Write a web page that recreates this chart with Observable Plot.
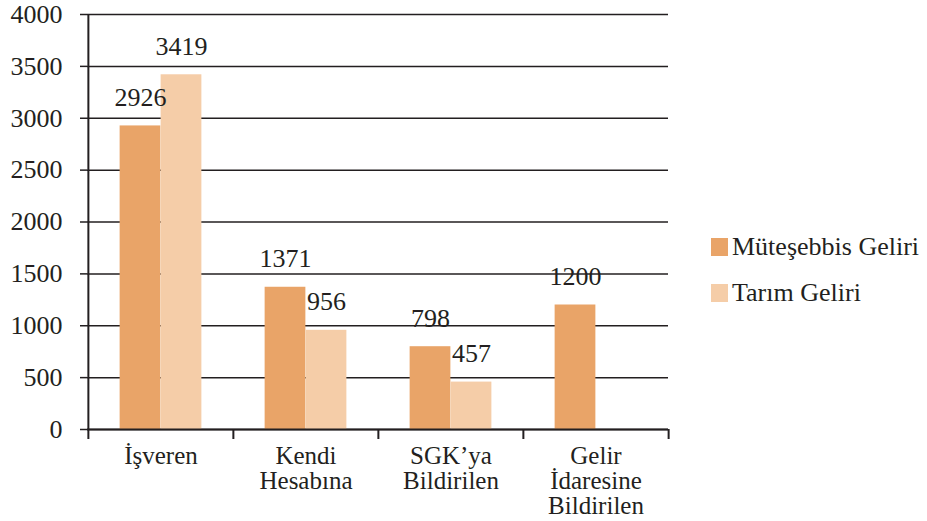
<!DOCTYPE html>
<html>
<head>
<meta charset="utf-8">
<script src="https://cdn.jsdelivr.net/npm/d3@7"></script>
<script src="https://cdn.jsdelivr.net/npm/@observablehq/plot@0.6"></script>
<style>
  html, body { margin: 0; padding: 0; background: #fff; }
  #wrap { position: relative; width: 927px; height: 521px; font-family: "Liberation Serif", serif; }
  #chart svg, #chart svg text { font-family: "Liberation Serif", serif !important; }
  #legend { position: absolute; left: 711px; top: 235px; font-size: 26px; color: #231f20; }
  .item { display: flex; align-items: center; height: 24px; margin-bottom: 22px; }
  .sw { width: 17px; height: 18px; margin-right: 4px; }
</style>
</head>
<body>
<div id="wrap"><div id="chart"></div><div id="legend"></div></div>
<script>
// ---- data ----
const categories = ["İşveren", "Kendi Hesabına", "SGK’ya Bildirilen", "Gelir İdaresine Bildirilen"];
const categoryLabels = ["İşveren", "Kendi\nHesabına", "SGK’ya\nBildirilen", "Gelir\nİdaresine\nBildirilen"];
const seriesNames = ["Müteşebbis Geliri", "Tarım Geliri"];
const mutesebbis = [2926, 1371, 798, 1200];
const tarim = [3419, 956, 457, null];
const yTicks = [0, 500, 1000, 1500, 2000, 2500, 3000, 3500, 4000];
const colors = ["#E9A468", "#F5CDA8"];

// ---- layout ----
const W = 927, H = 521, ML = 87, MR = 259, MT = 14, MB = 92;
const bw = (W - ML - MR) / categories.length;
const barW = 41;
const outer = (bw - 2 * barW) / 2;
const plotH = H - MT - MB;
const ink = "#231f20";
const font = "'Liberation Serif', serif";
const fs = 26;

const rows0 = categories.map((c, i) => ({category: c, value: mutesebbis[i]})).filter(d => d.value != null);
const rows1 = categories.map((c, i) => ({category: c, value: tarim[i]})).filter(d => d.value != null);
const labelRows = categories.map((c, i) => ({category: c, label: categoryLabels[i]}));

const chart = Plot.plot({
  width: W, height: H,
  marginLeft: ML, marginRight: MR, marginTop: MT, marginBottom: MB,
  style: {fontFamily: font, color: ink, background: "white"},
  x: {domain: categories, padding: 0, axis: null},
  y: {domain: [0, 4000], axis: null},
  marks: [
    Plot.gridY(yTicks, {stroke: ink, strokeOpacity: 1, strokeWidth: 1.5}),
    Plot.barY(rows0, {x: "category", y: "value", fill: colors[0], insetLeft: outer, insetRight: bw - outer - barW}),
    Plot.barY(rows1, {x: "category", y: "value", fill: colors[1], insetLeft: outer + barW, insetRight: outer}),
    Plot.axisY(yTicks, {tickSize: 7, tickPadding: 18, fontSize: fs, fontFamily: font, stroke: ink, strokeWidth: 1.5, fill: ink, label: null, tickFormat: d => String(d)}),
    Plot.ruleY([0], {stroke: ink, strokeWidth: 2}),
    Plot.ruleX([categories[0]], {x: d => d, dx: -bw / 2, insetBottom: -10, stroke: ink, strokeWidth: 2}),
    Plot.ruleX(categories.slice(1), {x: d => d, dx: -bw / 2, insetTop: plotH, insetBottom: -10, stroke: ink, strokeWidth: 2}),
    Plot.ruleX([categories[categories.length - 1]], {x: d => d, dx: bw / 2, insetTop: plotH, insetBottom: -10, stroke: ink, strokeWidth: 2}),
    Plot.text(rows0, {x: "category", y: "value", text: d => String(d.value), dx: -barW / 2, dy: -20, lineAnchor: "bottom", fontSize: fs, fontFamily: font, fill: ink}),
    Plot.text(rows1, {x: "category", y: "value", text: d => String(d.value), dx: barW / 2, dy: -20, lineAnchor: "bottom", fontSize: fs, fontFamily: font, fill: ink}),
    Plot.text(labelRows, {x: "category", text: "label", frameAnchor: "bottom", lineAnchor: "top", dy: 17, lineHeight: 1.0, fontSize: 25, fontFamily: font, fill: ink})
  ]
});
document.getElementById("chart").appendChild(chart);

const legend = document.getElementById("legend");
seriesNames.forEach((name, i) => {
  const item = document.createElement("div");
  item.className = "item";
  const sw = document.createElement("div");
  sw.className = "sw";
  sw.style.background = colors[i];
  const t = document.createElement("span");
  t.textContent = name;
  item.appendChild(sw); item.appendChild(t);
  legend.appendChild(item);
});
</script>
</body>
</html>
